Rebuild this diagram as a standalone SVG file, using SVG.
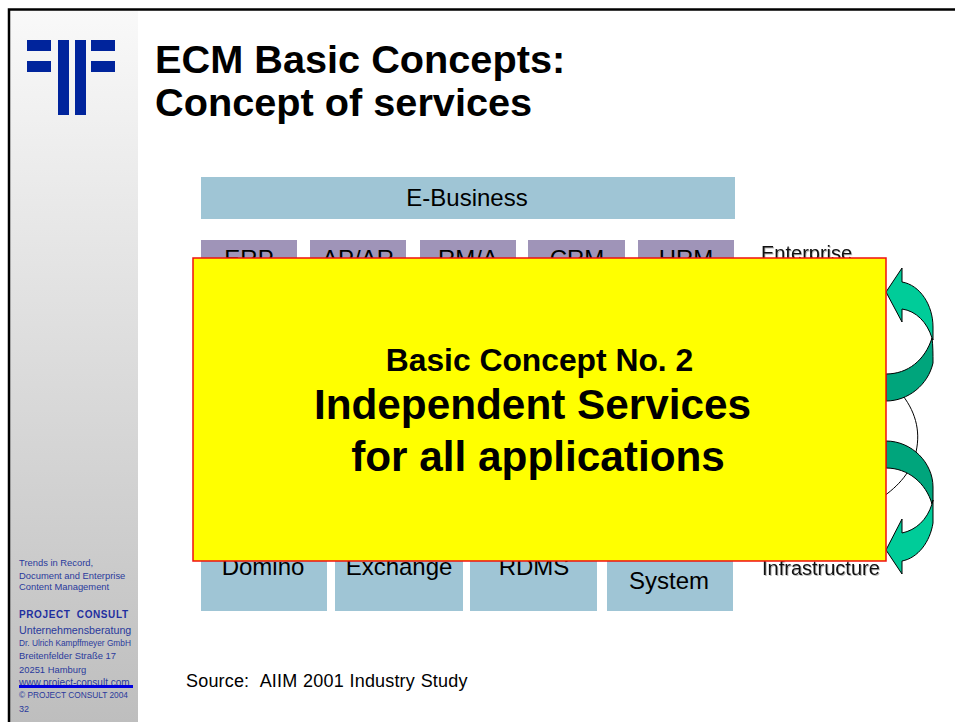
<svg xmlns="http://www.w3.org/2000/svg" width="955" height="722" viewBox="0 0 955 722">
<style>
text{font-family:"Liberation Sans",Arial,sans-serif}
.box{fill:#9fc5d5}
.pur{fill:#9f94b8}
.t{font-size:24px;fill:#000;text-anchor:middle}
.l{font-size:20px;fill:#111;filter:drop-shadow(1px 1px 0.5px #bbb)}
.s{font-size:9.400px;fill:#2a3a9c}
.logo{fill:#00249c}
.arr{stroke:#000;stroke-width:1}
</style>
<defs>
<linearGradient id="side" x1="0" y1="0" x2="0" y2="1"><stop offset="0" stop-color="#f9f9f9"/><stop offset="1" stop-color="#bebebe"/></linearGradient>
</defs>
<rect width="955" height="722" fill="#fff"/>
<g id="frame">
<rect x="10" y="10" width="128" height="712" fill="url(#side)"/>
<path d="M9 722V9.500H955" fill="none" stroke="#000" stroke-width="2.500"/>
</g>
<g id="logo">
<rect class="logo" x="27" y="40" width="24" height="11"/><rect class="logo" x="27" y="61" width="24" height="11"/>
<rect class="logo" x="58" y="40" width="11" height="75"/><rect class="logo" x="75" y="40" width="11" height="75"/>
<rect class="logo" x="91" y="40" width="24" height="11"/><rect class="logo" x="91" y="61" width="24" height="11"/>
</g>
<g id="title">
<text x="155" y="73" font-weight="bold" font-size="39.700">ECM Basic Concepts:</text>
<text x="155" y="116" font-weight="bold" font-size="39.700">Concept of services</text>
</g>
<g id="sidebar-text">
<text class="s" x="19" y="566">Trends in Record,</text>
<text class="s" x="19" y="579">Document and Enterprise</text>
<text class="s" x="19" y="590">Content Management</text>
<text x="19" y="618" font-size="10" font-weight="bold" fill="#1f2f9f" letter-spacing="0.600" word-spacing="3">PROJECT CONSULT</text>
<text x="19" y="634" font-size="10.700" fill="#2a3a9c">Unternehmensberatung</text>
<text x="19" y="646" font-size="8.300" fill="#2a3a9c">Dr. Ulrich Kampffmeyer GmbH</text>
<text class="s" x="19" y="659">Breitenfelder Straße 17</text>
<text class="s" x="19" y="673">20251 Hamburg</text>
<text x="19" y="686" font-size="10" fill="#2a3a9c">www.project-consult.com</text>
<rect x="19" y="685" width="114" height="3" fill="#0000e0"/>
<text x="19" y="698" font-size="8.300" fill="#2a3a9c">© PROJECT CONSULT 2004</text>
<text x="19" y="712" font-size="9" fill="#2a3a9c">32</text>
</g>
<g id="e-business"><rect class="box" x="201" y="177" width="534" height="42"/><text class="t" x="467" y="206">E-Business</text></g>
<g id="erp"><rect class="pur" x="201" y="240" width="96" height="30"/><text class="t" x="249" y="267">ERP</text></g>
<g id="ap-ar"><rect class="pur" x="310" y="240" width="96" height="30"/><text class="t" x="358" y="267">AP/AR</text></g>
<g id="rm-a"><rect class="pur" x="420" y="240" width="96" height="30"/><text class="t" x="468" y="267">RM/A</text></g>
<g id="crm"><rect class="pur" x="528" y="240" width="97" height="30"/><text class="t" x="577" y="267">CRM</text></g>
<g id="hrm"><rect class="pur" x="638" y="240" width="96" height="30"/><text class="t" x="686" y="267">HRM</text></g>
<g id="enterprise"><text class="l" x="761" y="260">Enterprise</text></g>
<g id="domino"><rect class="box" x="201" y="550" width="126" height="61"/><text class="t" x="263" y="575">Domino</text></g>
<g id="exchange"><rect class="box" x="335" y="550" width="128" height="61"/><text class="t" x="399" y="575">Exchange</text></g>
<g id="rdms"><rect class="box" x="470" y="550" width="127" height="61"/><text class="t" x="534" y="575">RDMS</text></g>
<g id="system"><rect class="box" x="607" y="550" width="126" height="61"/><text class="t" x="669" y="589">System</text></g>
<g id="infrastructure"><text class="l" x="762" y="575">Infrastructure</text></g>
<g id="connectors">
<path d="M900 392C915 410 921 430 916 452C911 472 900 485 880 499" fill="none" stroke="#000" stroke-width="1"/>
<path class="arr" fill="#00a57c" d="M886 374C908 374 925 360 932 338C933 345 933 355 933 363C928 385 908 401 886 401Z"/>
<path class="arr" fill="#00cc99" d="M886 292L902 268V282C920 285 933 305 933 327V340L932 338C927 322 916 311 902 309V322Z"/>
<path class="arr" fill="#00a57c" d="M886 441C912 441 933 463 933 487V500L932 504C926 483 908 468 886 468Z"/>
<path class="arr" fill="#00cc99" d="M886 550L902 519V533C916 530 927 520 932 504L933 500V523C930 542 918 558 902 561V574Z"/>
</g>
<g id="source"><text x="186" y="687" font-size="18" letter-spacing="0.180" word-spacing="0.500" xml:space="preserve">Source:  AIIM 2001 Industry Study</text></g>
<g id="callout">
<rect x="193" y="258" width="693" height="303" fill="#ff0" stroke="#f01010" stroke-width="1.500"/>
<text x="539.500" y="371" font-size="31.800" font-weight="bold" text-anchor="middle">Basic Concept No. 2</text>
<text x="532.500" y="419" font-size="42.300" font-weight="bold" text-anchor="middle">Independent Services</text>
<text x="538" y="471" font-size="42.300" font-weight="bold" text-anchor="middle">for all applications</text>
</g>
</svg>
